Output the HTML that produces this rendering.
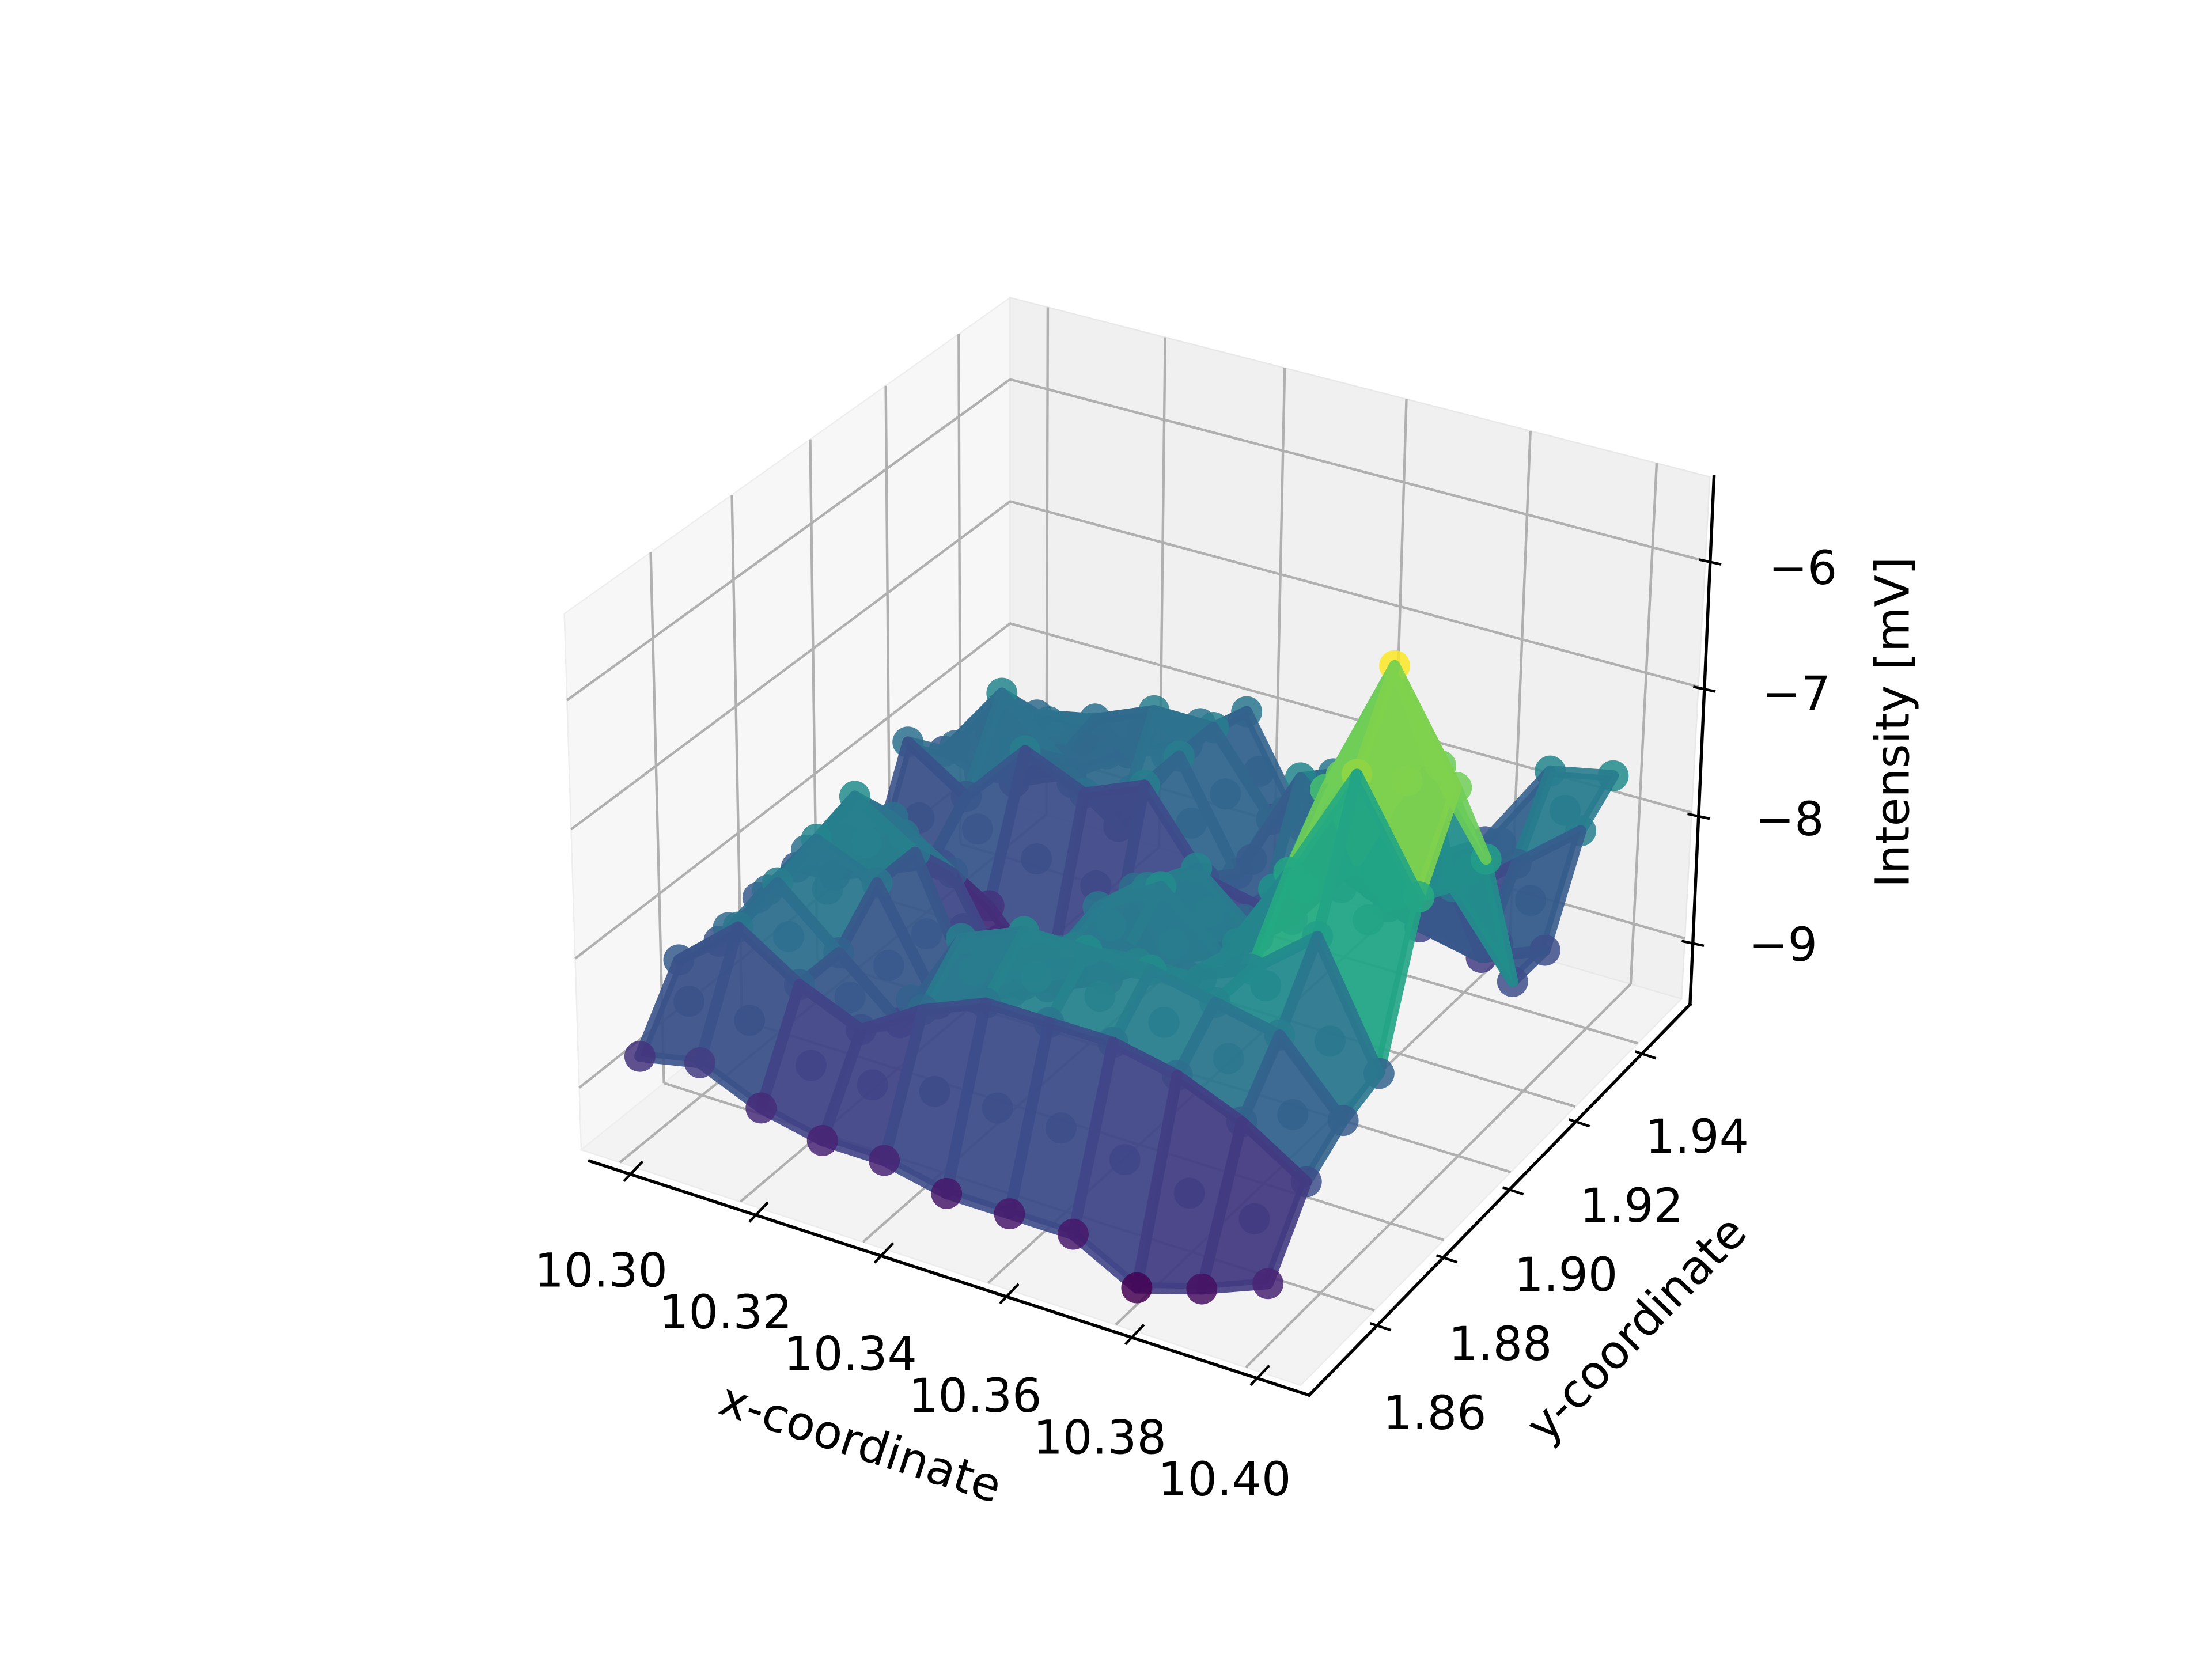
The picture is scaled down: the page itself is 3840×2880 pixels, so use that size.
<!DOCTYPE html>
<html><head><meta charset="utf-8"><style>
html,body{margin:0;padding:0;background:#fff;}
svg{display:block;}
text{font-family:"DejaVu Sans","Liberation Sans",sans-serif;fill:#000;}
</style></head><body>
<svg id="chart" width="3840" height="2880" viewBox="0 0 1568 1176" xmlns="http://www.w3.org/2000/svg">
<rect width="1568" height="1176" fill="#fff"/>
<g id="panes"></g>
<g id="grid"></g>
<g id="marks"></g>
<g id="axes"></g>
</svg>
<script>
const xValues=[10.30,10.31,10.32,10.33,10.34,10.35,10.36,10.37,10.38,10.39,10.40];
const yValues=[1.845,1.855,1.865,1.875,1.885,1.895,1.905,1.915,1.925,1.935,1.945];
const zRow0=[-8.8,-8.7,-8.9,-9.0,-9.0,-9.1,-9.1,-9.1,-9.35,-9.2,-9.0];
const zRow1=[-8.3,-7.9,-8.2,-8.4,-8.1,-7.9,-7.9,-7.9,-8.0,-8.2,-8.5];
const zRow2=[-8.4,-7.8,-8.2,-8.6,-7.8,-7.6,-7.6,-7.6,-7.7,-7.8,-8.3];
const zRow3=[-8.3,-7.7,-7.9,-8.7,-8.3,-8.0,-7.9,-7.9,-7.7,-7.3,-8.2];
const zRow4=[-8.3,-7.6,-7.9,-8.9,-8.6,-7.9,-7.6,-8.0,-7.2,-6.3,-7.1];
const zRow5=[-8.6,-8.0,-8.3,-9.1,-8.8,-8.0,-7.7,-8.1,-6.8,-5.7,-6.5];
const zRow6=[-8.8,-8.6,-8.8,-9.3,-9.1,-8.8,-8.6,-8.2,-7.6,-6.6,-7.3];
const zRow7=[-8.0,-8.3,-7.8,-8.0,-7.8,-8.4,-8.5,-8.0,-8.2,-7.9,-8.5];
const zRow8=[-8.3,-7.7,-8.1,-8.5,-7.8,-8.6,-7.7,-8.1,-8.6,-8.7,-8.5];
const zRow9=[-8.7,-8.1,-8.0,-7.8,-7.8,-8.4,-7.9,-8.3,-8.6,-8.2,-7.8];
const zRow10=[-9.0,-8.8,-8.5,-8.3,-7.9,-8.7,-8.4,-8.7,-8.4,-7.7,-7.6];
const zGrid=[zRow0,zRow1,zRow2,zRow3,zRow4,zRow5,zRow6,zRow7,zRow8,zRow9,zRow10];
const xTicks=[10.30,10.32,10.34,10.36,10.38,10.40];
const xTickLabels=["10.30","10.32","10.34","10.36","10.38","10.40"];
const yTicks=[1.86,1.88,1.90,1.92,1.94];
const yTickLabels=["1.86","1.88","1.90","1.92","1.94"];
const zTicks=[-6,-7,-8,-9];
const zTickLabels=["\u22126","\u22127","\u22128","\u22129"];

const NS="http://www.w3.org/2000/svg";
const X0=10.2935,X1=10.4083,Y0=1.8395,Y1=1.9545,Z0=-9.48,Z1=-5.33;
function sx(x){return (x-X0)/(X1-X0);}
function sy(y){return (y-Y0)/(Y1-Y0);}
function sz(z){return (z-Z0)/(Z1-Z0);}
function homog(p0,p1,p2,p3){
  const dx1=p1[0]-p2[0],dx2=p3[0]-p2[0],dx3=p0[0]-p1[0]+p2[0]-p3[0];
  const dy1=p1[1]-p2[1],dy2=p3[1]-p2[1],dy3=p0[1]-p1[1]+p2[1]-p3[1];
  const den=dx1*dy2-dx2*dy1;
  const g=(dx3*dy2-dx2*dy3)/den,h=(dx1*dy3-dx3*dy1)/den;
  const a=p1[0]-p0[0]+g*p1[0],b=p3[0]-p0[0]+h*p3[0],c=p0[0];
  const d=p1[1]-p0[1]+g*p1[1],e=p3[1]-p0[1]+h*p3[1],f=p0[1];
  return function(u,v){const q=g*u+h*v+1;return [(a*u+b*v+c)/q,(d*u+e*v+f)/q];};
}
const Hb=homog([412,815],[922,982],[1192,708],[716,570]);
const Ht=homog([400,435],[934,590],[1212,338],[716,211]);
function proj(u,v,w){const b=Hb(u,v),t=Ht(u,v);return [b[0]+(t[0]-b[0])*w,b[1]+(t[1]-b[1])*w];}
function pt(p){return p[0].toFixed(1)+","+p[1].toFixed(1);}
function mk(tag,attrs,parent){const el=document.createElementNS(NS,tag);for(const k in attrs)el.setAttribute(k,attrs[k]);parent.appendChild(el);return el;}

const panes=document.getElementById('panes');
let el;
el=mk('polygon',{points:[proj(0,0,0),proj(1,0,0),proj(1,1,0),proj(0,1,0)].map(pt).join(' '),fill:'#f3f3f3',stroke:'#ececec','stroke-width':1},panes);


el=mk('polygon',{points:[proj(0,0,0),proj(0,1,0),proj(0,1,1),proj(0,0,1)].map(pt).join(' '),fill:'#f7f7f7',stroke:'#eeeeee','stroke-width':1},panes);


el=mk('polygon',{points:[proj(0,1,0),proj(1,1,0),proj(1,1,1),proj(0,1,1)].map(pt).join(' '),fill:'#f0f0f0',stroke:'#e8e8e8','stroke-width':1},panes);



const grid=document.getElementById('grid');
function gl(p,q,name){const l=mk('line',{x1:p[0],y1:p[1],x2:q[0],y2:q[1],stroke:'#b0b0b0','stroke-width':1.8},grid);}
xTicks.forEach(x=>{const u=sx(x);gl(proj(u,0,0),proj(u,1,0),'floor-gridline-x');gl(proj(u,1,0),proj(u,1,1),'back-gridline-x');});
yTicks.forEach(y=>{const v=sy(y);gl(proj(0,v,0),proj(1,v,0),'floor-gridline-y');gl(proj(0,v,0),proj(0,v,1),'left-gridline-y');});
zTicks.forEach(z=>{const w=sz(z);gl(proj(0,0,w),proj(0,1,w),'left-gridline-z');gl(proj(0,1,w),proj(1,1,w),'back-gridline-z');});

const vir=[[68,1,84],[72,36,117],[65,68,135],[53,95,141],[42,120,142],[33,145,140],[34,168,132],[68,191,112],[122,209,81],[189,223,38],[253,231,37]];
function cmap(t){t=Math.max(0,Math.min(1,t))*10;const i=Math.min(9,Math.floor(t)),f=t-i;const a=vir[i],b=vir[i+1];return 'rgb('+a.map((c,k)=>Math.round(c+(b[k]-c)*f)).join(',')+')';}
let zmin=Infinity,zmax=-Infinity;zGrid.forEach(r=>r.forEach(z=>{zmin=Math.min(zmin,z);zmax=Math.max(zmax,z);}));
function col(z){return cmap((z-zmin)/(zmax-zmin));}

const marks=document.getElementById('marks');
const items=[];
for(let j=0;j<yValues.length;j++)for(let i=0;i<xValues.length;i++){
  const u=sx(xValues[i]),v=sy(yValues[j]),z=zGrid[j][i];
  items.push({kind:'pt',depth:Hb(u,v)[1]+0.5,p:proj(u,v,sz(z)),z:z});
  if(i<xValues.length-1&&j<yValues.length-1){
    const cs=[[i,j],[i+1,j],[i+1,j+1],[i,j+1]];
    const ps=cs.map(c=>proj(sx(xValues[c[0]]),sy(yValues[c[1]]),sz(zGrid[c[1]][c[0]])));
    const zc=cs.reduce((s,c)=>s+zGrid[c[1]][c[0]],0)/4;
    const uc=sx((xValues[i]+xValues[i+1])/2),vc=sy((yValues[j]+yValues[j+1])/2);
    items.push({kind:'quad',depth:Hb(uc,vc)[1],ps:ps,z:zc});
    items.push({kind:'pt',depth:Hb(uc,vc)[1]+0.3,p:proj(uc,vc,sz(zc)),z:zc});
  }
}
items.sort((a,b)=>a.depth-b.depth);
items.forEach(it=>{
  if(it.kind==='quad'){
    const q=mk('polygon',{points:it.ps.map(pt).join(' '),fill:col(it.z),stroke:col(it.z),'stroke-width':8,'stroke-linejoin':'round','fill-opacity':0.95,'stroke-opacity':0.9},marks);
    
    
  }else{
    const c=mk('circle',{cx:it.p[0].toFixed(1),cy:it.p[1].toFixed(1),r:11,fill:col(it.z),'fill-opacity':0.85},marks);
    
    
  }
});

const axes=document.getElementById('axes');
function line(p,q,w,name){const l=mk('line',{x1:p[0],y1:p[1],x2:q[0],y2:q[1],stroke:'#000','stroke-width':w,'stroke-linecap':'square'},axes);}
function txt(s,x,y,rot,name){const t=mk('text',{x:x,y:y,'font-size':33,'text-anchor':'middle','dominant-baseline':'central',transform:'rotate('+rot+' '+x+' '+y+')'},axes);t.textContent=s;}
const xa0=[418,823],xa1=[928,989],ya0=[928,989],ya1=[1198,712],za0=[1198,712],za1=[1215,338];
function along(a,b,f){return [a[0]+(b[0]-a[0])*f,a[1]+(b[1]-a[1])*f];}
line(xa0,xa1,2.2,'x-axis-line');
line(ya0,ya1,2.2,'y-axis-line');
line(za0,za1,2.2,'z-axis-line');
const xlab0=[426,901],xlab1=[868,1049];
xTicks.forEach((x,k)=>{const p=along(xa0,xa1,sx(x));line([p[0]-4,p[1]+4.2],[p[0]+8,p[1]-8.4],1.8,'x-tick');
  const f=(x-xTicks[0])/(xTicks[xTicks.length-1]-xTicks[0]);const lp=along(xlab0,xlab1,f);txt(xTickLabels[k],lp[0],lp[1],0,'x-tick-label');});
const ylab0=[1017,1002],ylab1=[1203,806];
yTicks.forEach((y,k)=>{const p=along(ya0,ya1,sy(y));line([p[0]-4,p[1]-1.3],[p[0]+9,p[1]+3],1.8,'y-tick');
  const f=(y-yTicks[0])/(yTicks[yTicks.length-1]-yTicks[0]);const lp=along(ylab0,ylab1,f);txt(yTickLabels[k],lp[0],lp[1],0,'y-tick-label');});
const zlab0=[1278,403],zlab1=[1264,670];
zTicks.forEach((z,k)=>{const p=along(za0,za1,sz(z));line([p[0]-7,p[1]-1.5],[p[0]+7,p[1]+1.5],1.8,'z-tick');
  const f=(z-zTicks[0])/(zTicks[zTicks.length-1]-zTicks[0]);const lp=along(zlab0,zlab1,f);txt(zTickLabels[k],lp[0],lp[1],0,'z-tick-label');});
txt('x-coordinate',610,1023,18,'x-axis-title');
txt('y-coordinate',1160,942,-46,'y-axis-title');
txt('Intensity [mV]',1342,512,-90,'z-axis-title');
</script>
</body></html>
